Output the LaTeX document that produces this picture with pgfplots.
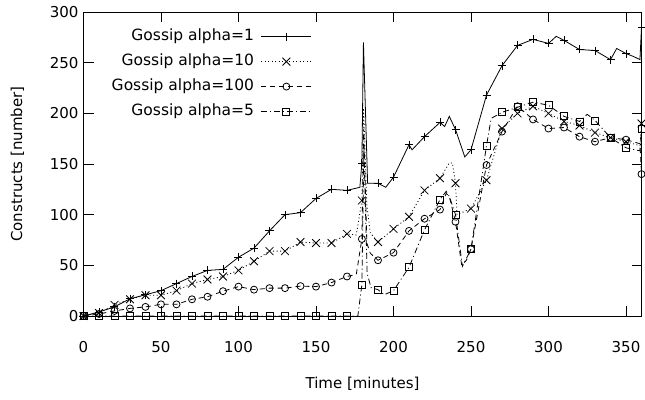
\documentclass[border=0pt]{standalone}
\usepackage{pgfplots}
\pgfplotsset{compat=1.18}
\usepackage{fontspec}
\setmainfont{DejaVu Sans}
\begin{document}
\begin{tikzpicture}[font=\fontsize{15}{18}\selectfont]
\useasboundingbox (-83.5pt,-83pt) rectangle (561.5pt,316pt);
\begin{axis}[
  at={(0pt,0pt)}, anchor=south west,
  scale only axis, width=558pt, height=304pt,
  xmin=0, xmax=360, ymin=0, ymax=300,
  xtick={0,50,...,350}, ytick={0,50,...,300},
  tick align=inside, major tick length=10pt,
  axis line style={line width=1pt},
  every tick/.style={black, line width=0.9pt},
  /pgf/number format/assume math mode=true,
  xticklabel style={yshift=-22pt},
  yticklabel style={xshift=-1.5pt},
  xlabel={Time [minutes]}, ylabel={Constructs [number]},
  xlabel style={at={(axis description cs:0.5,-0.2237)}, anchor=center},
  ylabel style={at={(axis description cs:-0.1183,0.5)}, anchor=center},
  clip=false,
  legend plot pos=right,
  legend cell align=right,
  legend style={draw=none, fill=none, at={(axis description cs:0.4095,0.951)}, anchor=north east, inner sep=0pt, row sep=6pt, column sep=5pt, nodes={inner sep=2pt, text height=11pt, text depth=4pt}, font=\fontsize{15.5}{18}\selectfont},
  legend image code/.code={\draw[#1, mark indices={2}] plot coordinates {(0pt,0pt) (25pt,0pt) (50pt,0pt)};},
]
\addplot[black, line width=0.8pt, mark=+, mark size=4pt, mark options={solid},
  mark indices={1,2,3,4,5,6,7,8,9,10,11,12,13,14,15,16,17,18,20,23,25,26,28,29,32,34,35,36,37,38,39,41,42,43,44,46,49}]
coordinates {
(0,0) (10,4) (20,9) (30,17) (40,21) (50,25) (60,32) (70,39) (80,45) (90,46)
(100,58) (110,67) (120,84) (130,100) (140,102) (150,116) (160,125) (170,124)
(178.3,127) (179.6,151) (180.6,270) (183.3,131) (190,131) (195,127) (200,137) (210,169)
(212,164) (220,177) (230,191) (233,187) (236,197) (240,184) (246,157) (250,164)
(260,218) (270,247) (280,267) (290,273) (300,269) (305,276) (310,272) (320,263)
(330,262) (340,253) (344,264) (350,259) (355,256) (359,253) (360,285)
};
\addlegendentry{Gossip alpha=1}
\addplot[black, line width=0.8pt, dash pattern=on 1pt off 2.5pt, mark=x, mark size=5.5pt, mark options={solid},
  mark indices={1,2,3,4,5,6,7,8,9,10,11,12,13,14,15,16,17,18,20,24,25,26,27,28,31,33,34,35,36,37,38,39,40,41,42,43,45}]
coordinates {
(0,0) (10,3) (20,11) (30,16.5) (40,20.5) (50,20.5) (60,25) (70,32) (80,36) (90,39)
(100,45) (110,54) (120,64) (130,64) (140,73) (150,72) (160,72) (170,81)
(176,80) (179.6,114) (180.7,205) (182.8,110) (185,82) (190,73) (200,86) (210,98)
(220,124) (230,136) (236,151) (238,151) (240,131) (241,100) (250,106)
(260,134) (270,185) (280,200) (290,207) (300,200) (310,192) (320,188)
(330,181) (340,176) (350,172) (359,168) (360,190)
};
\addlegendentry{Gossip alpha=10}
\addplot[black, line width=0.8pt, dash pattern=on 5pt off 4pt, mark=o, mark size=3.5pt, mark options={solid},
  mark indices={1,2,3,4,5,6,7,8,9,10,11,12,13,14,15,16,17,18,20,24,25,26,27,28,31,34,35,36,37,38,39,40,41,42,43,44,46}]
coordinates {
(0,0) (10,2) (20,5) (30,7.5) (40,9) (50,11.5) (60,11.5) (70,16.5) (80,19) (90,24.5)
(100,29) (110,26) (120,27.5) (130,27.5) (140,29.5) (150,29) (160,33) (170,39)
(176,41) (179.6,76) (180.8,185) (182.8,72) (185,62) (190,55) (200,62.5) (210,84)
(220,96) (230,105) (234,121) (236,118) (240,93) (244,50) (247,55) (250,66)
(260,149) (270,182) (280,207) (290,194) (300,185) (310,186) (320,177)
(330,172) (340,176) (350,174) (359,170) (360,140)
};
\addlegendentry{Gossip alpha=100}
\addplot[black, line width=0.8pt, dash pattern=on 6pt off 3pt on 1pt off 3pt, mark=square, mark size=3.5pt, mark options={solid},
  mark indices={1,2,3,4,5,6,7,8,9,10,11,12,13,14,15,16,17,18,20,24,26,27,28,29,32,34,35,37,38,39,40,41,42,44,45,46,48}]
coordinates {
(0,0) (10,0) (20,0) (30,0) (40,0) (50,0) (60,0) (70,0) (80,0) (90,0)
(100,0) (110,0) (120,0) (130,0) (140,0) (150,0) (160,0) (170,0)
(177,0) (179.6,31) (180.9,165) (183,42) (185.5,28) (190,26) (194,21) (200,25)
(210,48) (220,85) (230,115) (234,123) (236,118) (240,100) (244.5,49) (250,66)
(260,168) (263,195) (270,201) (280,206) (290,211) (300,208) (310,197) (320,192)
(325,199) (330,193) (340,176) (350,166) (359,163) (360,185)
};
\addlegendentry{Gossip alpha=5}
\end{axis}
\end{tikzpicture}
\end{document}
